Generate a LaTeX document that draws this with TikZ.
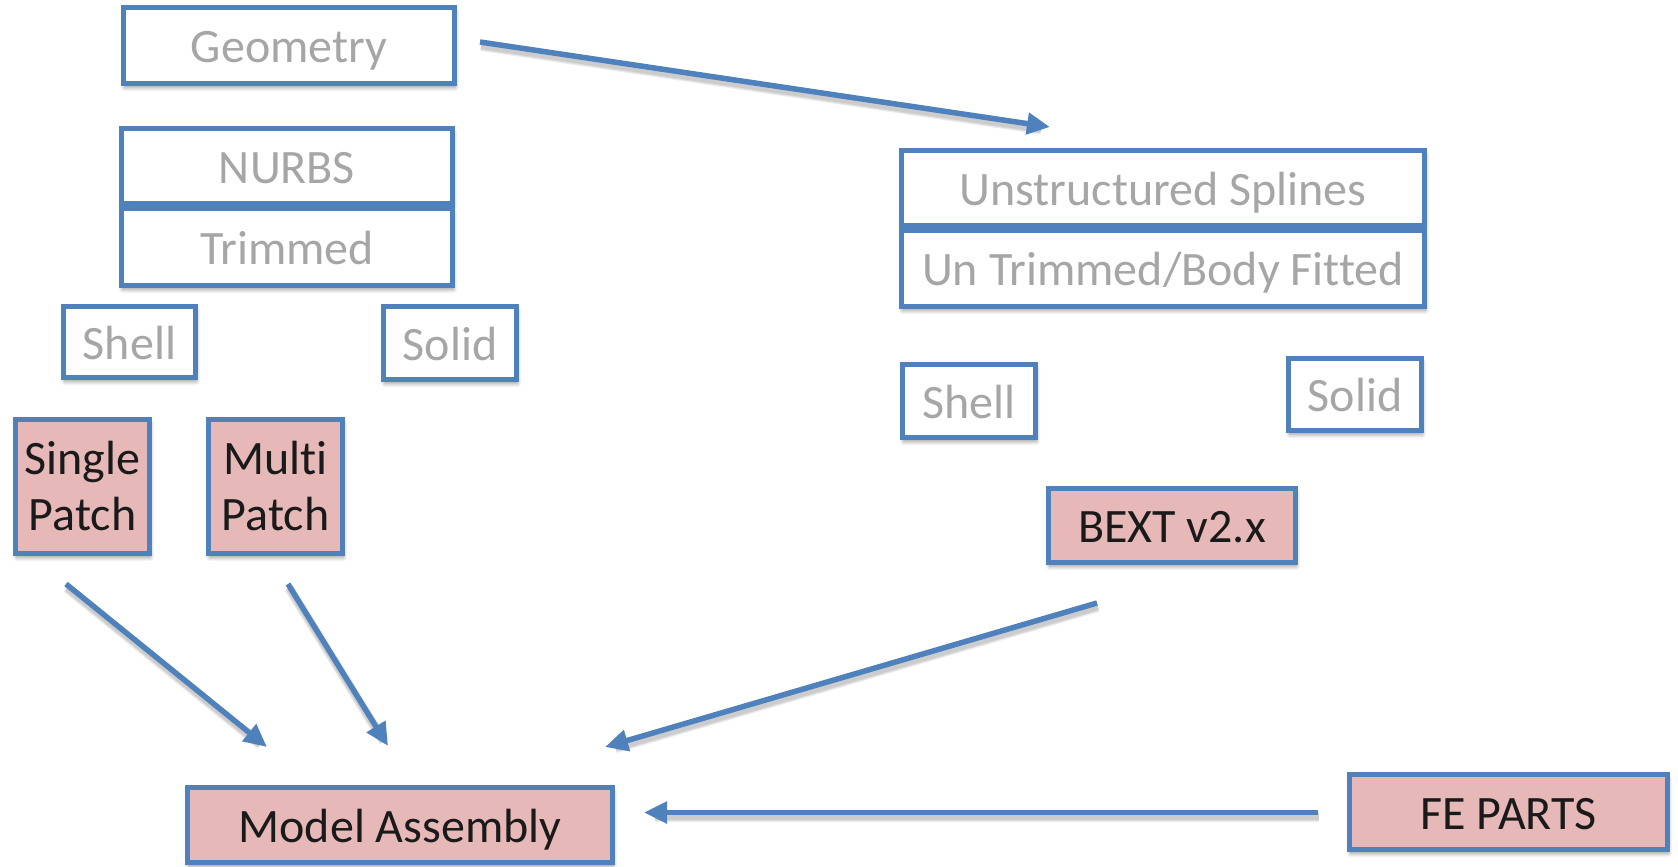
\documentclass[tikz,border=0pt]{standalone}
\usepackage{fontspec}
\setmainfont{Carlito}[Ligatures=NoCommon]
\usetikzlibrary{arrows.meta,shadows.blur}
\definecolor{edgeblue}{HTML}{4F81BD}
\definecolor{rosefill}{HTML}{E6B9B8}
\definecolor{softgray}{HTML}{A6A6A6}
\definecolor{inkblack}{HTML}{1A1A1A}

\begin{document}
\begin{tikzpicture}[x=1pt,y=-1pt,
  box/.style={draw=edgeblue, line width=5.5pt, rectangle, inner sep=0pt,
    font=\fontsize{48}{56}\selectfont,
    blur shadow={shadow xshift=1pt, shadow yshift=-4pt, shadow blur radius=4pt,
      shadow blur steps=8, shadow opacity=40}},
  plainbox/.style={box, fill=white, text=softgray},
  stagebox/.style={box, fill=rosefill, text=inkblack},
  oneline/.style={text height=46.5pt, text depth=12pt},
  arrowshade/.style={-, draw=black, line width=#1, draw opacity=0.07, shorten >=10pt,
    transform canvas={xshift=1pt, yshift=-4pt}},
  flow/.style={draw=edgeblue, line width=5.5pt, -{Triangle[length=23pt,width=21pt]},
    preaction={arrowshade=10pt}, preaction={arrowshade=8pt}, preaction={arrowshade=6pt}}]

\useasboundingbox (0,0) rectangle (1678,867);

% left column: trimmed NURBS
\node[plainbox, oneline, minimum width=331, minimum height=76] (geom) at (289,45.5) {Geometry};
\node[plainbox, oneline, minimum width=331, minimum height=75] (nurbs) at (287,166) {NURBS};
\node[plainbox, oneline, minimum width=331, minimum height=77] (trim) at (287,247) {Trimmed};
\node[plainbox, oneline, minimum width=132, minimum height=71] (shellL) at (129.5,342) {Shell};
\node[plainbox, oneline, minimum width=133, minimum height=73] (solidL) at (450,343) {Solid};
\node[stagebox, align=center, minimum width=134, minimum height=134] (single) at (82.5,486.5) {Single\\Patch};
\node[stagebox, align=center, minimum width=134, minimum height=134] (multi) at (275.5,486.5) {Multi\\Patch};

% right column: unstructured splines
\node[plainbox, oneline, minimum width=523, minimum height=75] (uspl) at (1163,188) {Unstructured Splines};
\node[plainbox, oneline, minimum width=523, minimum height=76] (untrim) at (1163,268.5) {Un Trimmed/Body Fitted};
\node[plainbox, oneline, minimum width=133, minimum height=73] (shellR) at (969,401) {Shell};
\node[plainbox, oneline, minimum width=133, minimum height=72] (solidR) at (1355,394.5) {Solid};
\node[stagebox, oneline, minimum width=247, minimum height=74] (bext) at (1172,525.5) {BEXT v2.x};

% assembly
\node[stagebox, oneline, minimum width=425, minimum height=75] (assembly) at (400,825) {Model Assembly};
\node[stagebox, oneline, minimum width=318, minimum height=75] (fe) at (1508.5,812) {FE PARTS};

% free ends of the connectors
\coordinate (geomOut) at (480,42);
\coordinate (usplIn) at (1050,127);
\coordinate (singleOut) at (66,584);
\coordinate (singleIn) at (267,747);
\coordinate (multiOut) at (288,584);
\coordinate (multiIn) at (388,746);
\coordinate (bextOut) at (1097,603);
\coordinate (bextIn) at (605,747);
\coordinate (feOut) at (1318,812.5);
\coordinate (feIn) at (644,812.5);

\draw[flow] (geomOut) -- (usplIn);
\draw[flow] (singleOut) -- (singleIn);
\draw[flow] (multiOut) -- (multiIn);
\draw[flow] (bextOut) -- (bextIn);
\draw[flow] (feOut) -- (feIn);

\end{tikzpicture}
\end{document}
